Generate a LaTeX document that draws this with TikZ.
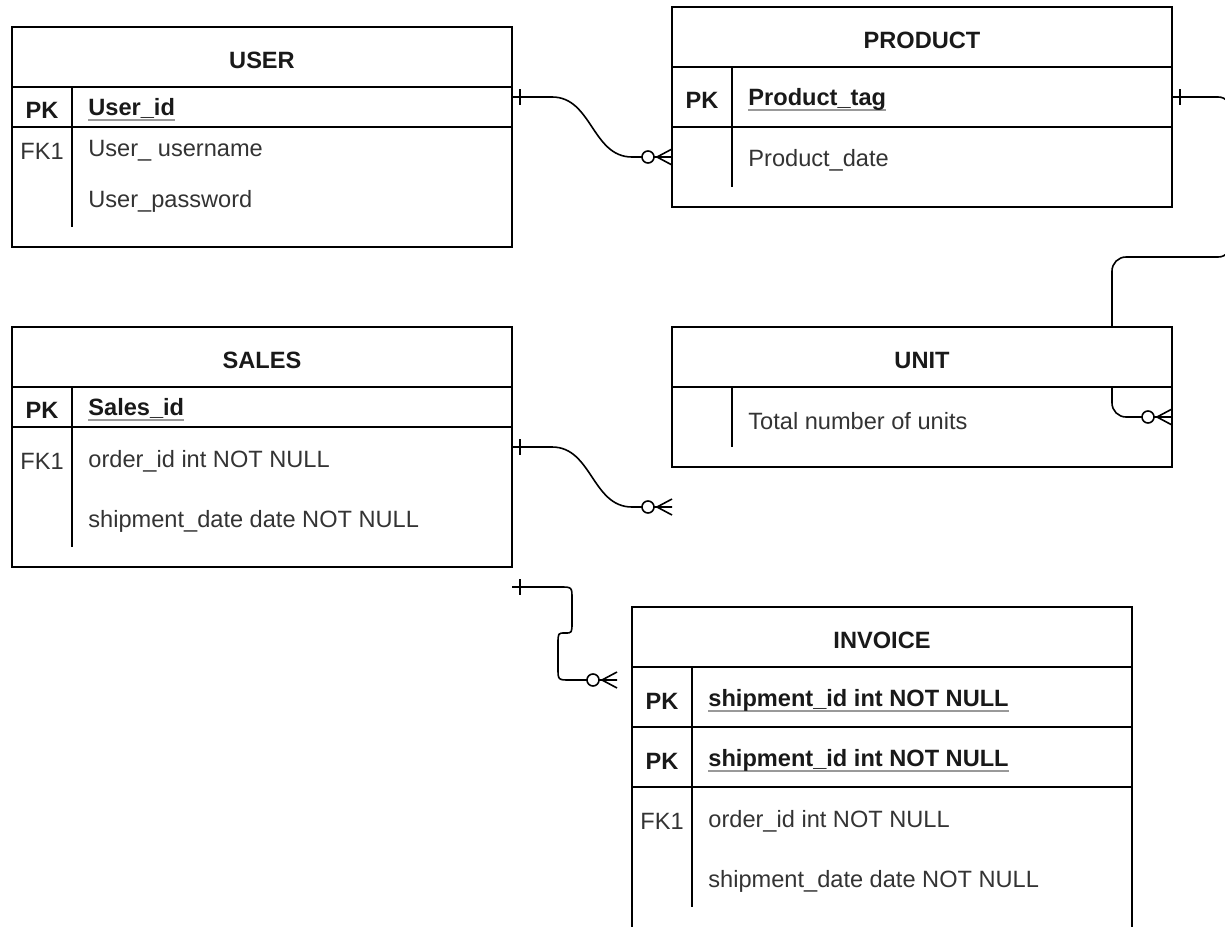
\documentclass[tikz,border=0pt]{standalone}
\usepackage{fontspec}
\setmainfont{Liberation Sans}
\usepackage{tikz}
\newsavebox{\keybox}
\newcommand{\keyname}[1]{\sbox{\keybox}{#1}\rlap{\color{black!40}\rule[-2.8pt]{\wd\keybox}{1.1pt}}\usebox{\keybox}}
\newcommand{\erOne}[1]{\draw[erline] ([shift={(8,-8)}]#1) -- ([shift={(8,8)}]#1);}
\newcommand{\erMany}[1]{%
\draw[erline] ([shift={(-15,0)}]#1) -- ([shift={(0,-8)}]#1);
\draw[erline] ([shift={(-15,0)}]#1) -- ([shift={(0,8)}]#1);
\draw[erline,fill=white] ([shift={(-24,0)}]#1) circle (3pt);}
\tikzset{
  erline/.style={line width=0.8pt, black},
  ertitle/.style={font=\fontsize{11.8}{14}\selectfont\bfseries, text=black!90, inner sep=0pt, yshift=-1.5pt},
  erattr/.style={font=\fontsize{11.8}{14}\selectfont, text=black!80, inner sep=0pt, anchor=west, yshift=-1.5pt},
  erkey/.style={font=\fontsize{11.8}{14}\selectfont, text=black!80, inner sep=0pt, yshift=-1.5pt},
}

\begin{document}
\begin{tikzpicture}[x=0.5pt,y=-0.5pt]
\useasboundingbox (0,0) rectangle (1225,926);
%\draw[help lines, color=gray!30, dashed] (0,0) grid[step=50] (1225,926);
% connectors first, the table headers cover them
\coordinate (userPK) at (512,97);
\coordinate (prodIn) at (672,157);
\coordinate (prodPK) at (1172,97);
\coordinate (unitIn) at (1172,417);
\coordinate (salesFK) at (512,447);
\coordinate (salesEnd) at (672,507);
\coordinate (salesLow) at (512,587);
\coordinate (invEnd) at (617,680);
\draw[erline] (userPK) -- (552,97) .. controls (592,97) and (592,157) .. (632,157) -- (prodIn);
\draw[erline, rounded corners=7pt] (prodPK) -- (1232,97) -- (1232,257) -- (1112,257) -- (1112,417) -- (unitIn);
\draw[erline] (salesFK) -- (552,447) .. controls (592,447) and (592,507) .. (632,507) -- (salesEnd);
\draw[erline] (salesLow) -- (560,587) .. controls (572,587) .. (572,599) -- (572,622) .. controls (572,633) .. (565,633) .. controls (558,633) .. (558,644) -- (558,668) .. controls (558,680) .. (570,680) -- (invEnd);
% USER
\draw[erline,fill=white] (12,27) rectangle (512,87);
\draw[erline] (12,87) rectangle (512,247);
\draw[erline] (12,127) -- (512,127);
\draw[erline] (72,87) -- (72,227);
\node[ertitle] (userT) at (262,57) {USER};
\node[ertitle] (userPKk) at (42,107) {PK};
\node[ertitle,anchor=west] (userId) at (88,107) {\keyname{User\_id}};
\node[erkey] (userFK) at (42,148) {FK1};
\node[erattr] (userName) at (88,148) {User\_ username};
\node[erattr] (userPw) at (88,198) {User\_password};
% PRODUCT
\draw[erline,fill=white] (672,7) rectangle (1172,67);
\draw[erline] (672,67) rectangle (1172,207);
\draw[erline] (672,127) -- (1172,127);
\draw[erline] (732,67) -- (732,187);
\node[ertitle] (prodT) at (922,37) {PRODUCT};
\node[ertitle] (prodPKk) at (702,97) {PK};
\node[ertitle,anchor=west] (prodTag) at (748,97) {\keyname{Product\_tag}};
\node[erattr] (prodDate) at (748,157) {Product\_date};
% SALES
\draw[erline,fill=white] (12,327) rectangle (512,387);
\draw[erline] (12,387) rectangle (512,567);
\draw[erline] (12,427) -- (512,427);
\draw[erline] (72,387) -- (72,547);
\node[ertitle] (salesT) at (262,357) {SALES};
\node[ertitle] (salesPKk) at (42,407) {PK};
\node[ertitle,anchor=west] (salesId) at (88,407) {\keyname{Sales\_id}};
\node[erkey] (salesFKk) at (42,458) {FK1};
\node[erattr] (salesOrder) at (88,458) {order\_id int NOT NULL};
\node[erattr] (salesShip) at (88,518) {shipment\_date date NOT NULL};
% UNIT
\draw[erline,fill=white] (672,327) rectangle (1172,387);
\draw[erline] (672,387) rectangle (1172,467);
\draw[erline] (732,387) -- (732,447);
\node[ertitle] (unitT) at (922,357) {UNIT};
\node[erattr] (unitTotal) at (748,418) {Total number of units};
% INVOICE
\draw[erline,fill=white] (632,607) rectangle (1132,667);
\draw[erline] (632,667) rectangle (1132,960);
\draw[erline] (632,727) -- (1132,727);
\draw[erline] (632,787) -- (1132,787);
\draw[erline] (692,667) -- (692,907);
\node[ertitle] (invT) at (882,637) {INVOICE};
\node[ertitle] (invPKa) at (662,698) {PK};
\node[ertitle,anchor=west] (invShipA) at (708,698) {\keyname{shipment\_id int NOT NULL}};
\node[ertitle] (invPKb) at (662,758) {PK};
\node[ertitle,anchor=west] (invShipB) at (708,758) {\keyname{shipment\_id int NOT NULL}};
\node[erkey] (invFK) at (662,818) {FK1};
\node[erattr] (invOrder) at (708,818) {order\_id int NOT NULL};
\node[erattr] (invDate) at (708,878) {shipment\_date date NOT NULL};
% ends of the relations
\erOne{userPK}
\erOne{prodPK}
\erOne{salesFK}
\erOne{salesLow}
\erMany{prodIn}
\erMany{unitIn}
\erMany{salesEnd}
\erMany{invEnd}
\end{tikzpicture}
\end{document}
